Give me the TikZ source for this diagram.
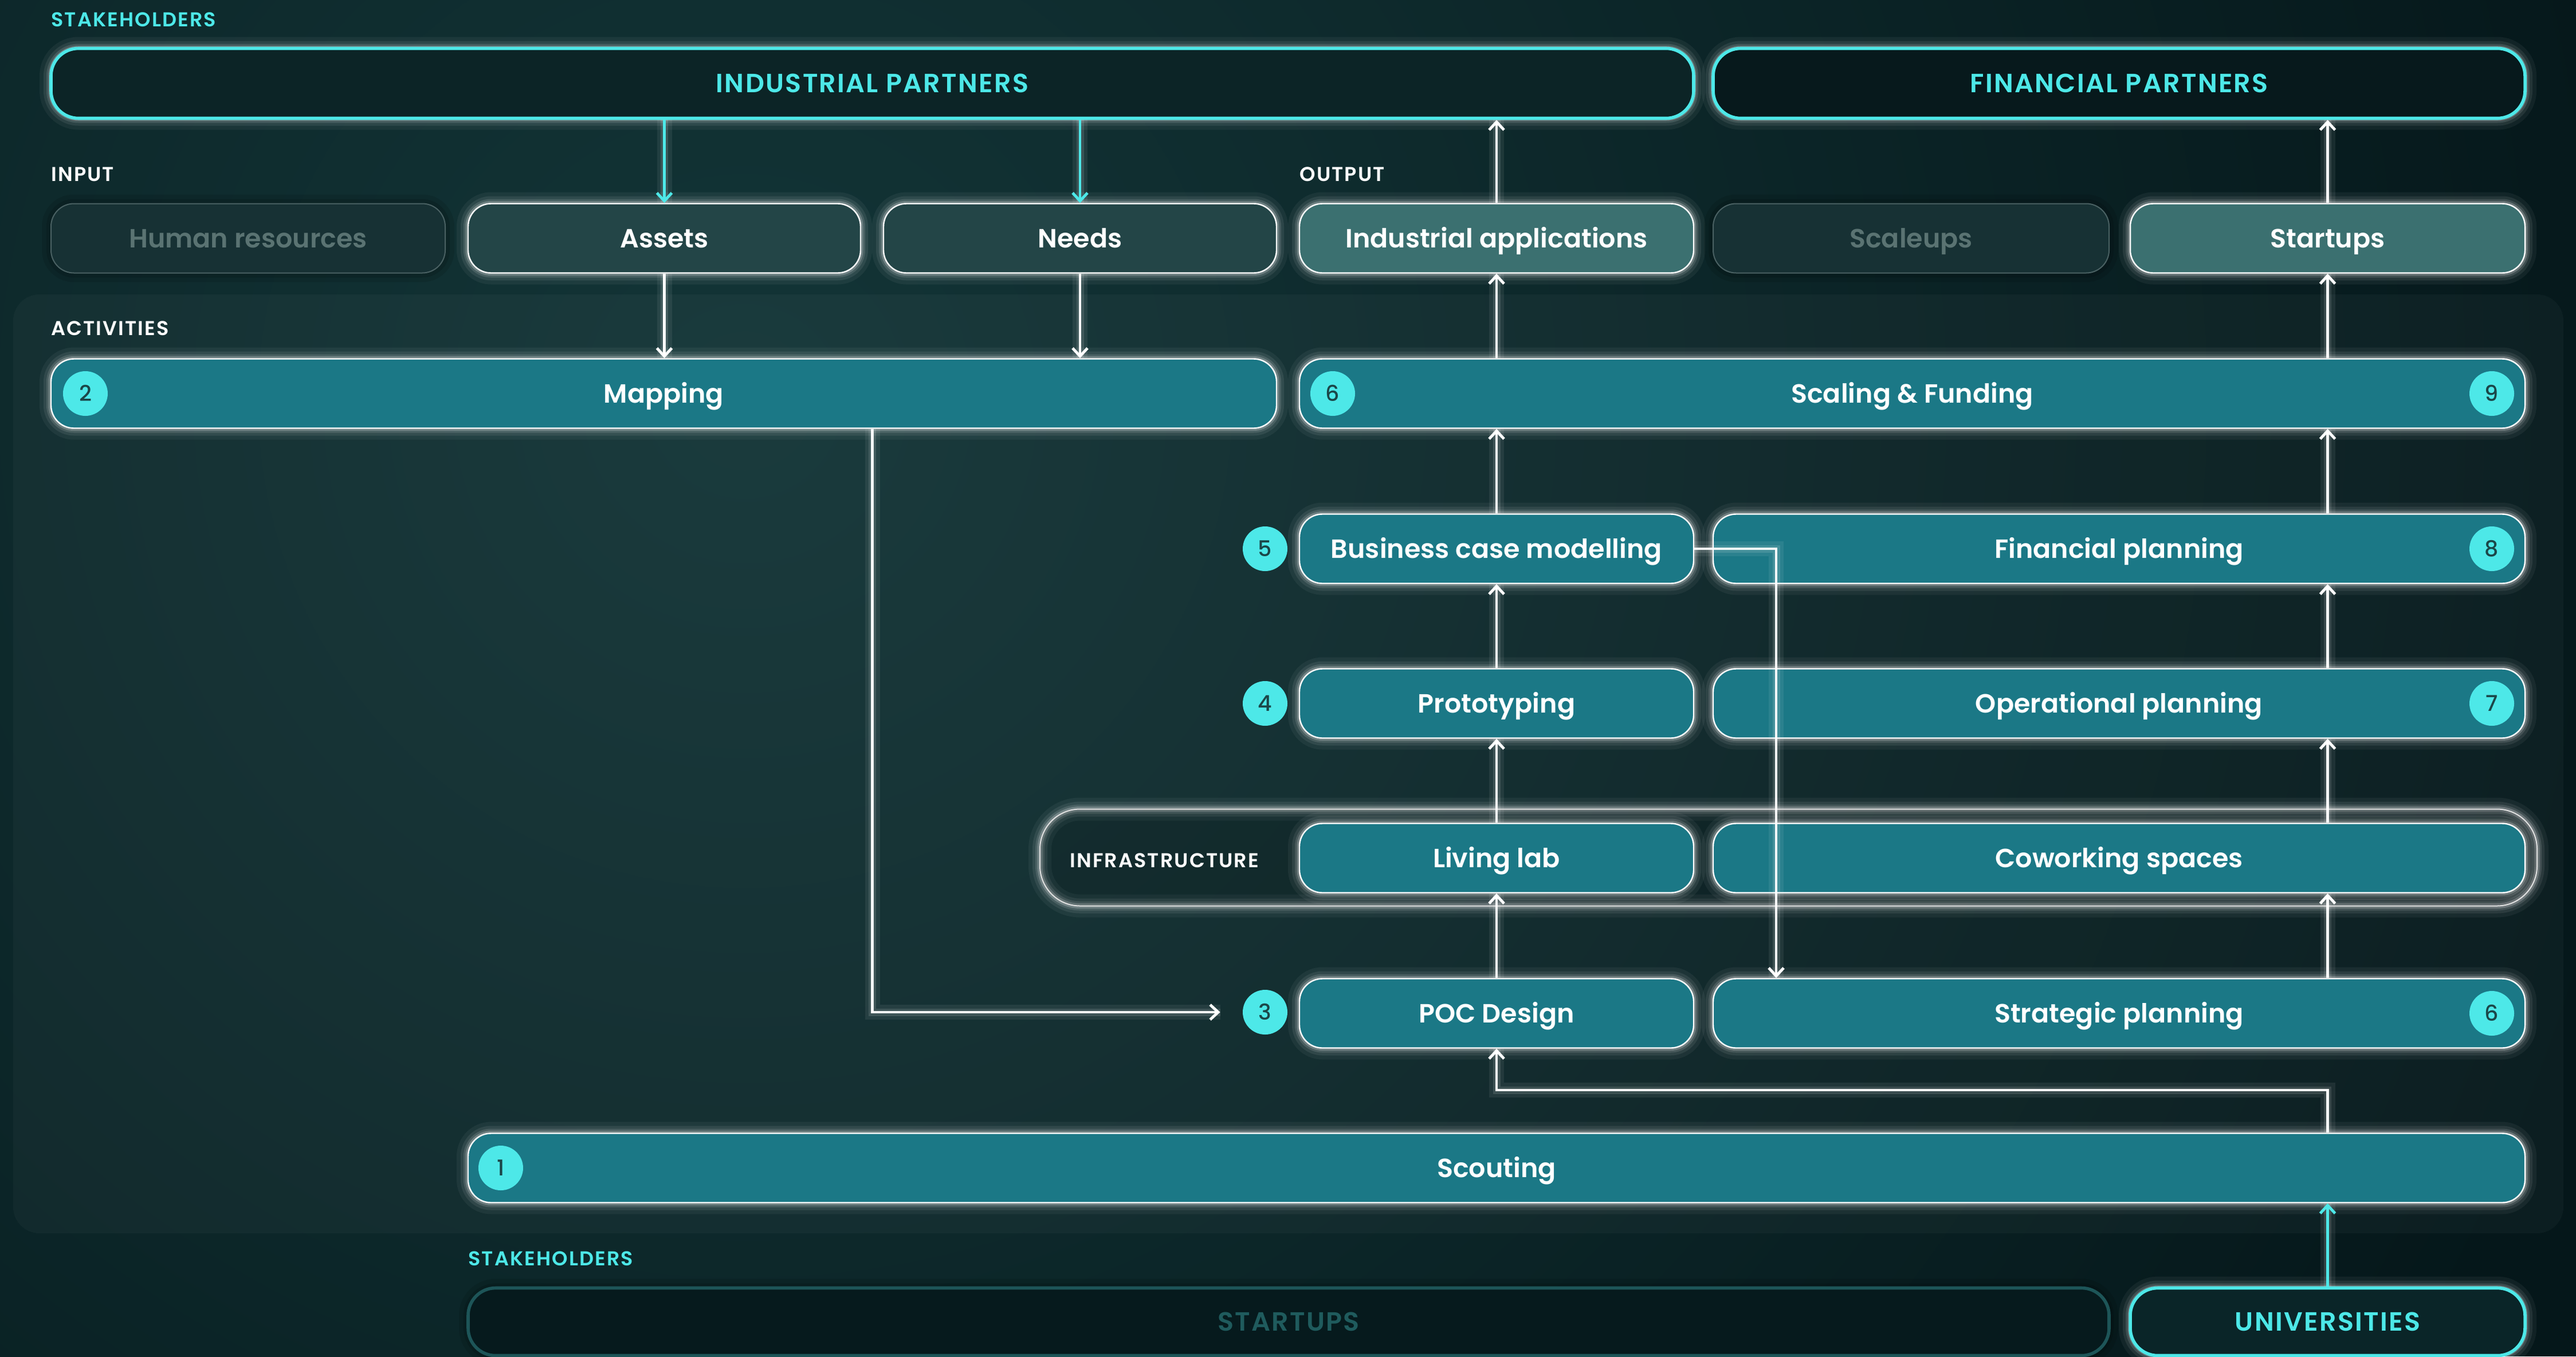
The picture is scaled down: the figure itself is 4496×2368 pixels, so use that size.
\documentclass[tikz,border=0pt]{standalone}
\usepackage{fontspec}
\setmainfont{Poppins}[BoldFont={Poppins SemiBold}]
\newfontfamily\numfont{Poppins Medium}
\usetikzlibrary{arrows.meta,calc}
\definecolor{cyanc}{HTML}{4DE8E8}
\definecolor{actfill}{HTML}{1B7886}
\definecolor{infill}{HTML}{234547}
\definecolor{outfill}{HTML}{3B7070}
\definecolor{dimfill}{HTML}{173134}
\definecolor{dimdraw}{HTML}{4A6163}
\definecolor{dimtext}{HTML}{5A7372}
\definecolor{badgetxt}{HTML}{1B4749}
\definecolor{bglight}{HTML}{133537}
\definecolor{bgdark}{HTML}{05171A}
\definecolor{stkA}{HTML}{0C2426}
\definecolor{stkB}{HTML}{07191C}
\definecolor{stkC}{HTML}{0A2528}
\definecolor{stkdimdraw}{HTML}{1D5558}
\definecolor{stkdimtext}{HTML}{1F5B5D}
\definecolor{stkdimfill}{HTML}{061A1D}
\begin{document}
\begin{tikzpicture}[x=0.5pt,y=-0.5pt,
  glow/.style={preaction={draw=white,draw opacity=0.05,line width=20pt},
               preaction={draw=white,draw opacity=0.08,line width=13pt},
               preaction={draw=white,draw opacity=0.12,line width=8pt},
               preaction={draw=white,draw opacity=0.22,line width=4.5pt}},
  dglow/.style={preaction={draw=black,draw opacity=0.10,line width=16pt},
                preaction={draw=black,draw opacity=0.12,line width=8pt}},
  boxtext/.style={font=\fontsize{23pt}{27pt}\selectfont\bfseries, text height=16pt, text depth=0pt},
  box/.style={rounded corners=20pt, inner sep=0pt, minimum height=60.5pt, boxtext, text=white},
  act/.style={box, glow, fill=actfill, draw=white, line width=1.2pt},
  inbox/.style={box, glow, fill=infill, draw=white, line width=1.2pt},
  outbox/.style={box, glow, fill=outfill, draw=white, line width=1.2pt},
  dimbox/.style={box, dglow, fill=dimfill, draw=dimdraw, line width=1pt, text=dimtext},
  stktext/.style={font=\fontsize{23pt}{27pt}\selectfont\bfseries\addfontfeatures{LetterSpace=5}, text height=16pt, text depth=0pt},
  stk/.style={box, glow, rounded corners=24pt, minimum height=61pt, draw=cyanc, line width=2.8pt, text=cyanc, stktext},
  stkdim/.style={box, dglow, rounded corners=24pt, minimum height=59pt, fill=stkdimfill, draw=stkdimdraw, line width=2.8pt, text=stkdimtext, stktext},
  lbl/.style={anchor=west, inner sep=0pt, font=\fontsize{17.5pt}{20pt}\selectfont\bfseries\addfontfeatures{LetterSpace=6}, text=white},
  badge/.style={circle, fill=cyanc, minimum size=39pt, inner sep=0pt, text=badgetxt,
                font=\numfont\fontsize{19pt}{20pt}\selectfont, text height=13.4pt, text depth=0pt},
  contbox/.style={glow, rounded corners=35pt, fill=black, fill opacity=0.12, draw=white!88!black, line width=1pt, inner sep=0pt},
  arr/.style={draw=white, line width=2.4pt, -{Straight Barb[length=7pt,width=13pt]},
              preaction={draw=white, arrows=-, draw opacity=0.07, line width=13pt},
              preaction={draw=white, arrows=-, draw opacity=0.12, line width=6.5pt}},
  carr/.style={arr, draw=cyanc}
]
% background
\clip (0,0) rectangle (4496,2368);
\fill[bgdark] (0,0) rectangle (4496,2368);
\shade[inner color=bglight, outer color=bgdark] (1300,700) circle (3400);
% activities area
\fill[white, fill opacity=0.03, rounded corners=23pt] (23,514) rectangle (4474,2153);

% stakeholders top
\node[lbl, text=cyanc] (lblstk) at (89,34) {STAKEHOLDERS};
\node[stk, fill=stkA, minimum width=1433.5pt] (ip) at (1522.5,145.5) {INDUSTRIAL PARTNERS};
\node[stk, fill=stkB, minimum width=708.5pt] (fp) at (3698.5,145.5) {FINANCIAL PARTNERS};

% input / output
\node[lbl] (lblin) at (89,304) {INPUT};
\node[lbl] (lblout) at (2268,304) {OUTPUT};
\node[dimbox, minimum width=344pt] (hr) at (433,416) {Human resources};
\node[inbox, minimum width=342.5pt] (assets) at (1159.5,416) {Assets};
\node[inbox, minimum width=343pt] (needs) at (1885,416) {Needs};
\node[outbox, minimum width=344pt] (indapp) at (2612,416) {Industrial applications};
\node[dimbox, minimum width=345.5pt] (scaleups) at (3335.5,416) {Scaleups};
\node[outbox, minimum width=344.5pt] (startups) at (4062.5,416) {Startups};

% activities
\node[lbl] (lblact) at (89,573) {ACTIVITIES};
\node[act, minimum width=1069.5pt] (mapping) at (1158.5,687) {Mapping};
\node[act, minimum width=1069.5pt] (scaling) at (3337.5,687) {Scaling \& Funding};
\node[act, minimum width=344pt] (bcm) at (2612,958) {Business case modelling};
\node[act, minimum width=708.5pt] (finplan) at (3698.5,958) {Financial planning};
\node[act, minimum width=344pt] (proto) at (2612,1228) {Prototyping};
\node[act, minimum width=708.5pt] (opplan) at (3698.5,1228) {Operational planning};
\node[contbox, minimum width=1306.5pt, minimum height=84.5pt] (infra) at (3121.5,1497) {};
\node[lbl] (lblinfra) at (1867,1502) {INFRASTRUCTURE};
\node[act, minimum width=344pt] (living) at (2612,1498) {Living lab};
\node[act, minimum width=708.5pt] (cowork) at (3698.5,1498) {Coworking spaces};
\node[act, minimum width=344pt] (poc) at (2612,1769) {POC Design};
\node[act, minimum width=708.5pt] (strat) at (3698.5,1769) {Strategic planning};
\node[act, minimum width=1795pt] (scout) at (2612,2039) {Scouting};

% stakeholders bottom
\node[lbl, text=cyanc] (lblstk2) at (817,2197) {STAKEHOLDERS};
\node[stkdim, minimum width=1432pt] (startupsS) at (2249,2307.5) {STARTUPS};
\node[stk, fill=stkC, minimum width=344.5pt, minimum height=59pt] (univ) at (4062.5,2307.5) {UNIVERSITIES};

% badges
\node[badge] (b2) at (149,687) {2};
\node[badge] (b6a) at (2326,687) {6};
\node[badge] (b9) at (4349,687) {9};
\node[badge] (b5) at (2208,958) {5};
\node[badge] (b4) at (2208,1228) {4};
\node[badge] (b3) at (2208,1767) {3};
\node[badge] (b8) at (4349,958) {8};
\node[badge] (b7) at (4349,1228) {7};
\node[badge] (b6b) at (4349,1769) {6};
\node[badge] (b1) at (874,2039) {1};

% connectors
\draw[carr] (ip.south -| assets.north) -- (assets.north);
\draw[carr] (ip.south -| needs.north) -- (needs.north);
\draw[arr] (assets.south) -- (mapping.north -| assets.south);
\draw[arr] (needs.south) -- (mapping.north -| needs.south);
\draw[arr] (indapp.north) -- (ip.south -| indapp.north);
\draw[arr] (startups.north) -- (fp.south -| startups.north);
\draw[arr] (scaling.north -| indapp.south) -- (indapp.south);
\draw[arr] (scaling.north -| startups.south) -- (startups.south);
\draw[arr] (bcm.north) -- (scaling.south -| bcm.north);
\draw[arr] (finplan.north -| startups.south) -- (scaling.south -| startups.south);
\draw[arr] (proto.north) -- (bcm.south);
\draw[arr] (opplan.north -| startups.south) -- (finplan.south -| startups.south);
\draw[arr] (living.north) -- (proto.south);
\draw[arr] (cowork.north -| startups.south) -- (opplan.south -| startups.south);
\draw[arr] (poc.north) -- (living.south);
\draw[arr] (strat.north -| startups.south) -- (cowork.south -| startups.south);
\draw[arr, shorten >=19.5pt] (mapping.south -| ip.south) |- (b3.west);
\coordinate (bend) at (3100,958);
\draw[arr] (bcm.east) -- (bend) -- (bend |- strat.north);
\coordinate (sc1) at (4062.5,1903);
\draw[arr] (scout.north -| sc1) -- (sc1) -| (poc.south);
\draw[carr] (univ.north) -- (scout.south -| univ.north);
\end{tikzpicture}
\end{document}
